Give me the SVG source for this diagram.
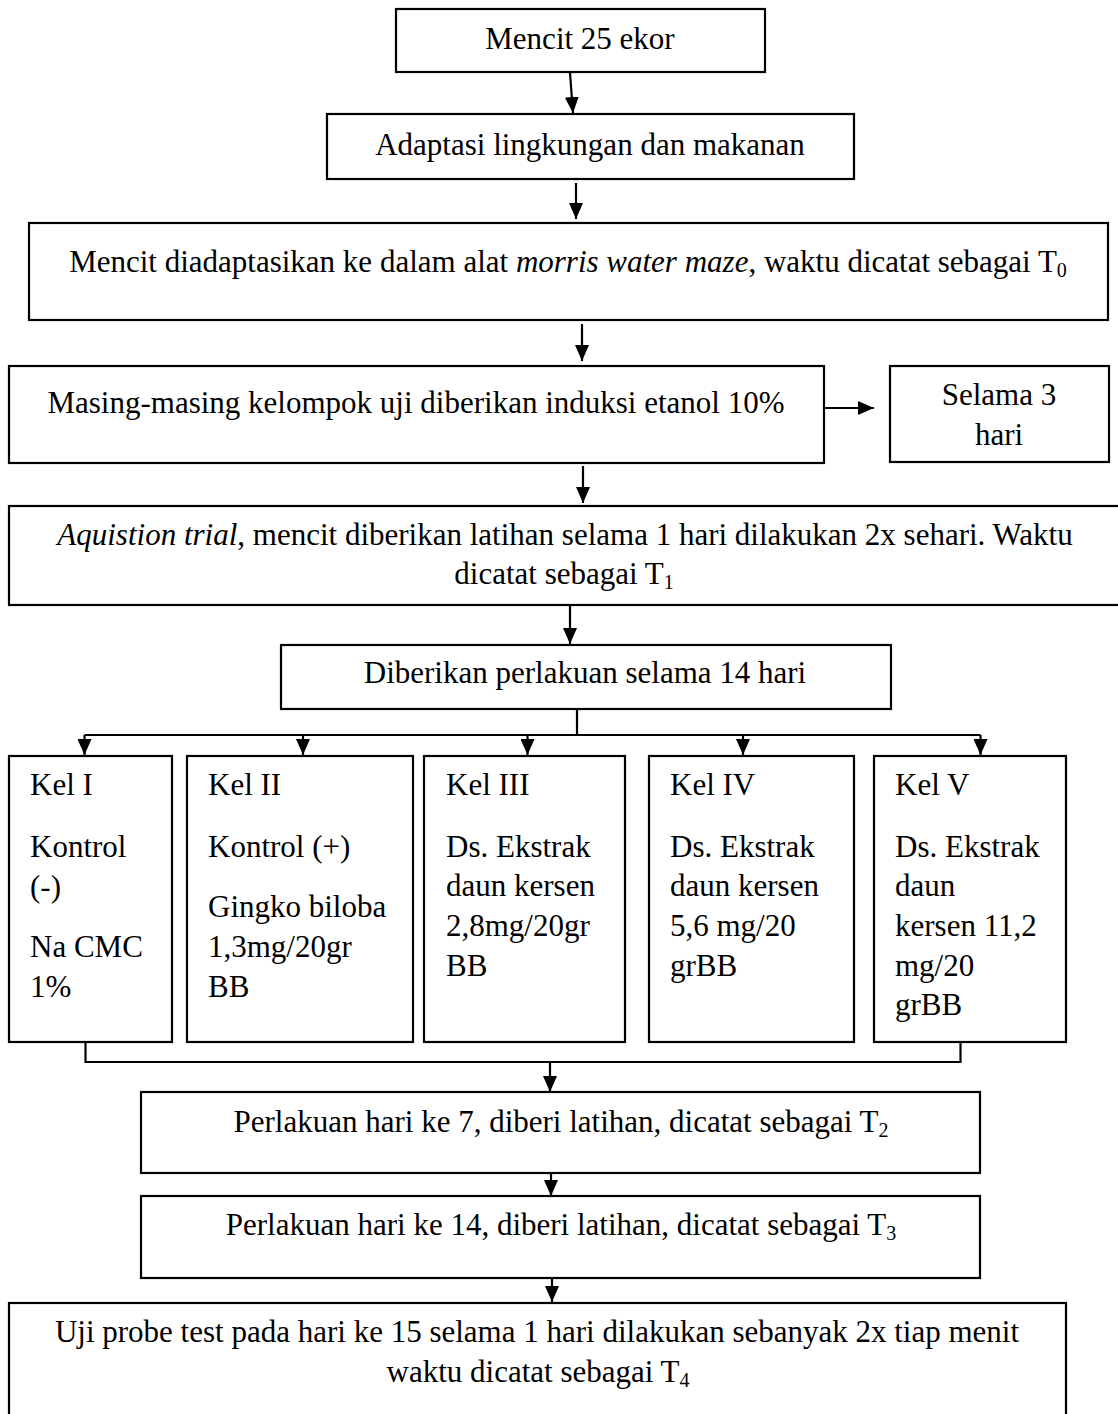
<svg xmlns="http://www.w3.org/2000/svg" width="1118" height="1414" viewBox="0 0 1118 1414">
<style>
  .box { fill: #ffffff; stroke: #000000; stroke-width: 2.2; }
  .t { font-family: "Liberation Serif", "Times New Roman", serif; font-size: 31px; fill: #000000; }
  .c { text-anchor: middle; }
  .sub { font-size: 20px; }
  .conn { fill: none; stroke: #000000; stroke-width: 2.2; }
  .arr { marker-end: url(#ah); }
</style>
<defs>
  <marker id="ah" markerUnits="userSpaceOnUse" viewBox="0 0 16 14" refX="16" refY="7" markerWidth="16" markerHeight="14" orient="auto">
    <path d="M0,0 L16,7 L0,14 z" fill="#000000"/>
  </marker>
</defs>
<rect width="1118" height="1414" fill="#ffffff"/>

<g id="connectors">
  <line class="conn arr" x1="570" y1="73" x2="573" y2="113"/>
  <line class="conn arr" x1="576" y1="183" x2="576" y2="219"/>
  <line class="conn arr" x1="582" y1="324" x2="582" y2="361"/>
  <line class="conn arr" x1="824" y1="408" x2="874" y2="408"/>
  <line class="conn arr" x1="583" y1="466" x2="583" y2="503"/>
  <line class="conn arr" x1="570" y1="605" x2="570" y2="644"/>
  <line class="conn" x1="577" y1="709" x2="577" y2="735"/>
  <line class="conn" x1="84.5" y1="735" x2="980.5" y2="735"/>
  <line class="conn arr" x1="84.5" y1="735" x2="84.5" y2="755"/>
  <line class="conn arr" x1="303" y1="735" x2="303" y2="755"/>
  <line class="conn arr" x1="527.5" y1="735" x2="527.5" y2="755"/>
  <line class="conn arr" x1="743" y1="735" x2="743" y2="755"/>
  <line class="conn arr" x1="980.5" y1="735" x2="980.5" y2="755"/>
  <polyline class="conn" points="85.5,1042 85.5,1062 960.5,1062 960.5,1042"/>
  <line class="conn arr" x1="550" y1="1062" x2="550" y2="1092"/>
  <line class="conn arr" x1="551" y1="1173" x2="551" y2="1196"/>
  <line class="conn arr" x1="552" y1="1278" x2="552" y2="1302"/>
</g>

<g id="n1">
  <rect class="box" x="396" y="9" width="369" height="63"/>
  <text class="t c" x="580" y="49">Mencit 25 ekor</text>
</g>
<g id="n2">
  <rect class="box" x="327" y="114" width="527" height="65"/>
  <text class="t c" x="590" y="155">Adaptasi lingkungan dan makanan</text>
</g>
<g id="n3">
  <rect class="box" x="29" y="223" width="1079" height="97"/>
  <text class="t c" x="568" y="272">Mencit diadaptasikan ke dalam alat <tspan font-style="italic">morris water maze</tspan>, waktu dicatat sebagai T<tspan class="sub" dy="5">0</tspan></text>
</g>
<g id="n4">
  <rect class="box" x="9" y="366" width="815" height="97"/>
  <text class="t c" x="416" y="413">Masing-masing kelompok uji diberikan induksi etanol 10%</text>
</g>
<g id="n4b">
  <rect class="box" x="890" y="366" width="219" height="96"/>
  <text class="t c" x="999" y="405">Selama 3</text>
  <text class="t c" x="999" y="445">hari</text>
</g>
<g id="n5">
  <rect class="box" x="9" y="506" width="1120" height="99"/>
  <text class="t c" x="565" y="545"><tspan font-style="italic">Aquistion trial</tspan>, mencit diberikan latihan selama 1 hari dilakukan 2x sehari. Waktu</text>
  <text class="t c" x="564" y="584">dicatat sebagai T<tspan class="sub" dy="5">1</tspan></text>
</g>
<g id="n6">
  <rect class="box" x="281" y="645" width="610" height="64"/>
  <text class="t c" x="585" y="683">Diberikan perlakuan selama 14 hari</text>
</g>
<g id="k1">
  <rect class="box" x="9" y="756" width="163" height="286"/>
  <text class="t" x="30" y="795">Kel I</text>
  <text class="t" x="30" y="857">Kontrol</text>
  <text class="t" x="30" y="897">(-)</text>
  <text class="t" x="30" y="957">Na CMC</text>
  <text class="t" x="30" y="997">1%</text>
</g>
<g id="k2">
  <rect class="box" x="187" y="756" width="226" height="286"/>
  <text class="t" x="208" y="795">Kel II</text>
  <text class="t" x="208" y="857">Kontrol (+)</text>
  <text class="t" x="208" y="917">Gingko biloba</text>
  <text class="t" x="208" y="957">1,3mg/20gr</text>
  <text class="t" x="208" y="997">BB</text>
</g>
<g id="k3">
  <rect class="box" x="424" y="756" width="201" height="286"/>
  <text class="t" x="446" y="795">Kel III</text>
  <text class="t" x="446" y="857">Ds. Ekstrak</text>
  <text class="t" x="446" y="896">daun kersen</text>
  <text class="t" x="446" y="936">2,8mg/20gr</text>
  <text class="t" x="446" y="976">BB</text>
</g>
<g id="k4">
  <rect class="box" x="649" y="756" width="205" height="286"/>
  <text class="t" x="670" y="795">Kel IV</text>
  <text class="t" x="670" y="857">Ds. Ekstrak</text>
  <text class="t" x="670" y="896">daun kersen</text>
  <text class="t" x="670" y="936">5,6 mg/20</text>
  <text class="t" x="670" y="976">grBB</text>
</g>
<g id="k5">
  <rect class="box" x="874" y="756" width="192" height="286"/>
  <text class="t" x="895" y="795">Kel V</text>
  <text class="t" x="895" y="857">Ds. Ekstrak</text>
  <text class="t" x="895" y="896">daun</text>
  <text class="t" x="895" y="936">kersen 11,2</text>
  <text class="t" x="895" y="976">mg/20</text>
  <text class="t" x="895" y="1015">grBB</text>
</g>
<g id="n7">
  <rect class="box" x="141" y="1092" width="839" height="81"/>
  <text class="t c" x="561" y="1132">Perlakuan hari ke 7, diberi latihan, dicatat sebagai T<tspan class="sub" dy="5">2</tspan></text>
</g>
<g id="n8">
  <rect class="box" x="141" y="1196" width="839" height="82"/>
  <text class="t c" x="561" y="1235">Perlakuan hari ke 14, diberi latihan, dicatat sebagai T<tspan class="sub" dy="5">3</tspan></text>
</g>
<g id="n9">
  <rect class="box" x="9" y="1303" width="1057" height="130"/>
  <text class="t c" x="537" y="1342">Uji probe test pada hari ke 15 selama 1 hari dilakukan sebanyak 2x tiap menit</text>
  <text class="t c" x="538" y="1382">waktu dicatat sebagai T<tspan class="sub" dy="5">4</tspan></text>
</g>
</svg>
